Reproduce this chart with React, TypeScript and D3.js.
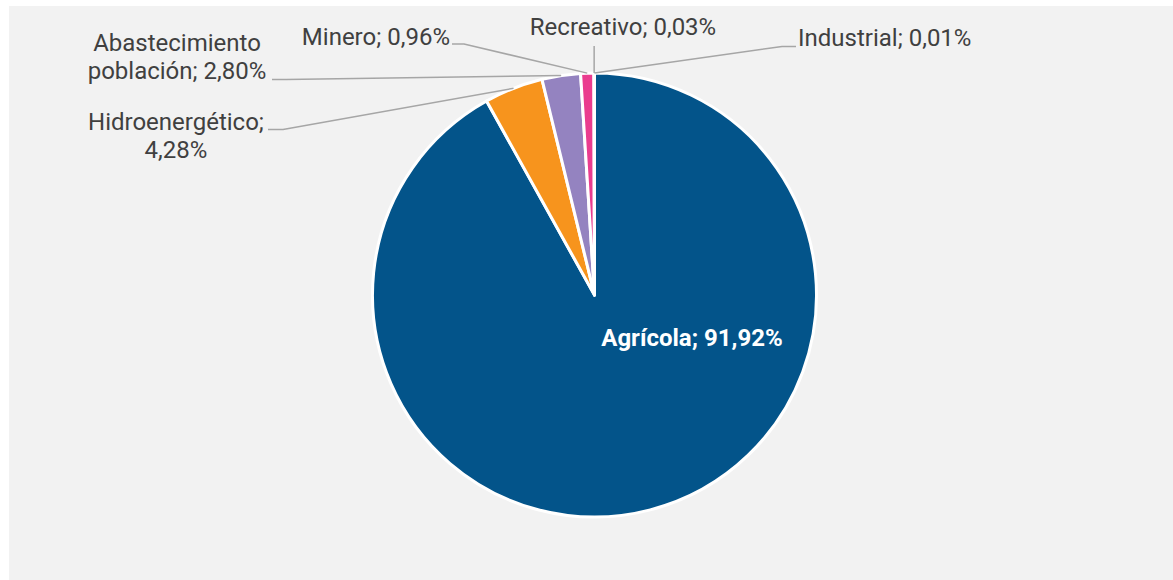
import React from "react";
import * as d3 from "d3";

const categories = ["Agrícola", "Hidroenergético", "Abastecimiento población", "Minero", "Recreativo", "Industrial"];
const values = [91.92, 4.28, 2.8, 0.96, 0.03, 0.01];
const colors = ["#03548a", "#f7941d", "#9483c0", "#ea3c8f", "#7fb3d5", "#5b9bd5"];
const labelLines = [
  ["Agrícola; 91,92%"],
  ["Hidroenergético;", "4,28%"],
  ["Abastecimiento", "población; 2,80%"],
  ["Minero; 0,96%"],
  ["Recreativo; 0,03%"],
  ["Industrial; 0,01%"],
];

const W = 1173;
const H = 580;
const cx = 594.5;
const cy = 295;
const R = 222;
const FONT = "Roboto, 'Noto Sans', sans-serif";

// label layout: text anchor point (first baseline), alignment, leader polyline start points
const layout = [
  { x: 692, y: 346, anchor: "middle", leader: null as null | [number, number][] , inside: true },
  { x: 176, y: 130, anchor: "middle", leader: [[268, 129.5], [283, 129.5]] as [number, number][], inside: false },
  { x: 177, y: 51, anchor: "middle", leader: [[272, 79.5], [286, 79.5]] as [number, number][], inside: false },
  { x: 450, y: 45, anchor: "end", leader: [[452, 44], [464, 44]] as [number, number][], inside: false },
  { x: 623, y: 35, anchor: "middle", leader: [] as [number, number][], inside: false },
  { x: 798, y: 46, anchor: "start", leader: [[796, 46.5], [782, 46.5]] as [number, number][], inside: false },
];

export default function App() {
  const pie = d3.pie<number>().sort(null).value((d) => d);
  const arcs = pie(values);
  const arc = d3.arc<d3.PieArcDatum<number>>().innerRadius(0).outerRadius(R);

  return (
    <svg width={W} height={H} style={{ position: "absolute", left: 0, top: 0, display: "block" }}>
      <rect x={0} y={0} width={W} height={H} fill="#ffffff" />
      <rect x={9} y={6} width={W - 9} height={H - 6} fill="#f2f2f2" />
      <g transform={`translate(${cx},${cy})`}>
        {arcs.map((a, i) => (
          <path key={categories[i]} d={arc(a) || ""} fill={colors[i]} stroke="#ffffff" strokeWidth={3} strokeLinejoin="round" />
        ))}
      </g>
      {arcs.map((a, i) => {
        const L = layout[i];
        if (!L.leader) return null;
        const mid = (a.startAngle + a.endAngle) / 2;
        const ex = cx + Math.sin(mid) * R;
        const ey = cy - Math.cos(mid) * R;
        let pts: [number, number][] = L.leader.slice();
        if (pts.length === 0) pts = [[ex, 46]];
        pts.push([ex, ey]);
        return (
          <polyline
            key={"l" + i}
            points={pts.map((p) => p.join(",")).join(" ")}
            fill="none"
            stroke="#a6a6a6"
            strokeWidth={1.5}
          />
        );
      })}
      {layout.map((L, i) => (
        <text
          key={"t" + i}
          x={L.x}
          y={L.y}
          textAnchor={L.anchor as any}
          fontFamily={FONT}
          fontSize={24}
          fontWeight={L.inside ? 700 : 400}
          fill={L.inside ? "#ffffff" : "#404040"}
        >
          {labelLines[i].map((ln, j) => (
            <tspan key={j} x={L.x} dy={j === 0 ? 0 : 28}>
              {ln}
            </tspan>
          ))}
        </text>
      ))}
    </svg>
  );
}
